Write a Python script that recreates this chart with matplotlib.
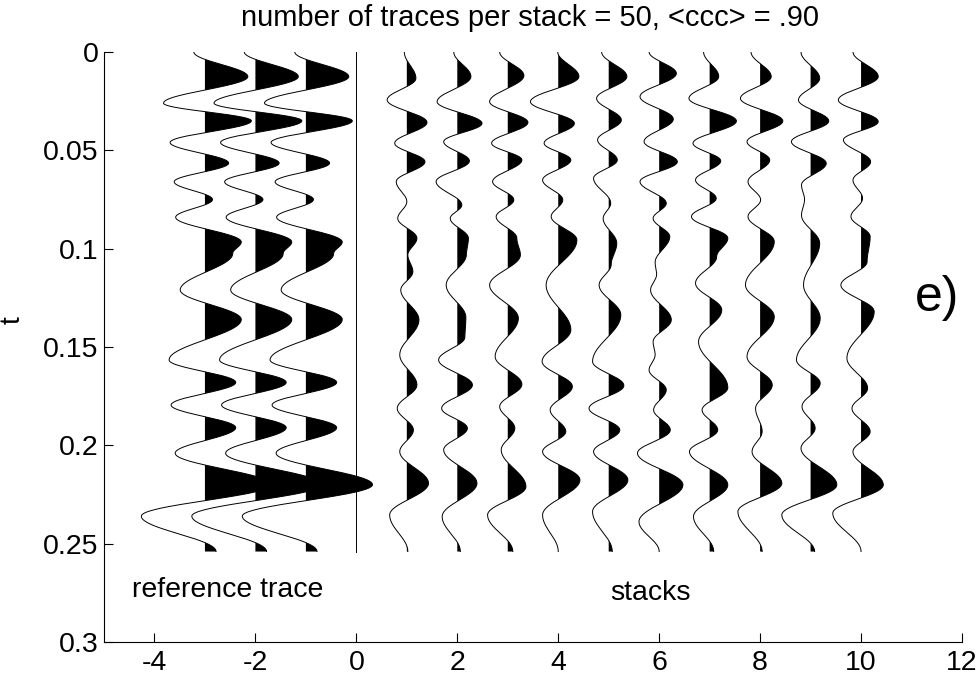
import numpy as np
import matplotlib
matplotlib.use("Agg")
import matplotlib.pyplot as plt

plt.rcParams['font.family'] = ['Liberation Sans', 'DejaVu Sans']

# Trace extrema: times (s) and amplitudes (trace units) of successive peaks/troughs
T_END = 0.254

ref_t = [0.000, 0.0125, 0.026, 0.035, 0.046, 0.0565, 0.066, 0.075, 0.084, 0.0966, 0.1025,
         0.121, 0.136, 0.1566, 0.168, 0.1795, 0.191, 0.204, 0.220, 0.236, T_END]
ref_a = [-0.22, 0.85, -0.82, 0.92, -0.69, 0.47, -0.61, 0.15, -0.58, 0.72, 0.55,
         -0.49, 0.72, -0.71, 0.61, -0.67, 0.61, -0.59, 1.32, -1.26, 0.22]

zero_t = [0.0, T_END]
zero_a = [0.0, 0.0]

s1_t = [0.0, 0.0134, 0.0244, 0.0358, 0.0464, 0.0558, 0.0659, 0.0761, 0.0846, 0.0947, 0.1032,
        0.1117, 0.121, 0.1362, 0.154, 0.1693, 0.1812, 0.1922, 0.2032, 0.2193, 0.2354, T_END]
s1_a = [-0.05, 0.18, -0.39, 0.40, -0.24, 0.36, -0.21, 0.0, -0.18, 0.20, 0.02,
        0.12, -0.12, 0.24, -0.14, 0.20, -0.19, 0.13, -0.14, 0.43, -0.34, 0.02]

s2_t = [0.0, 0.0125, 0.0253, 0.0363, 0.0456, 0.0554, 0.0659, 0.0778, 0.0846, 0.0947, 0.103,
        0.1185, 0.135, 0.145, 0.1566, 0.1693, 0.1812, 0.1913, 0.2023, 0.2193, 0.2362, T_END]
s2_a = [-0.07, 0.27, -0.40, 0.49, -0.27, 0.24, -0.42, 0.09, -0.14, 0.22, 0.18,
        -0.22, 0.17, 0.15, -0.37, 0.30, -0.31, 0.20, -0.27, 0.39, -0.30, 0.06]

s3_t = [0.0, 0.0120, 0.0253, 0.0358, 0.0464, 0.0549, 0.0659, 0.0752, 0.0837, 0.0947, 0.1032,
        0.1185, 0.1354, 0.1549, 0.169, 0.1803, 0.1913, 0.2023, 0.221, 0.2354, T_END]
s3_a = [-0.16, 0.32, -0.36, 0.40, -0.32, 0.28, -0.30, 0.12, -0.23, 0.18, 0.25,
        -0.36, 0.21, -0.25, 0.28, -0.16, 0.14, -0.13, 0.36, -0.40, 0.10]

s4_t = [0.0, 0.0125, 0.0253, 0.0363, 0.0464, 0.0549, 0.0651, 0.0752, 0.0837, 0.0956,
        0.1185, 0.1413, 0.1574, 0.1701, 0.182, 0.193, 0.2032, 0.2176, 0.2354, T_END]
s4_a = [-0.01, 0.41, -0.55, 0.32, -0.28, 0.25, -0.31, 0.09, -0.14, 0.37,
        -0.24, 0.25, -0.32, 0.28, -0.16, 0.15, -0.31, 0.43, -0.31, 0.0]

s5_t = [0.0, 0.0125, 0.0236, 0.0346, 0.0447, 0.0549, 0.0642, 0.0769, 0.0846, 0.0973, 0.108,
        0.1185, 0.1337, 0.1574, 0.1696, 0.1812, 0.1922, 0.2032, 0.2176, 0.2337, T_END]
s5_a = [-0.14, 0.36, -0.24, 0.25, -0.22, 0.17, -0.30, 0.04, -0.11, 0.16, 0.05,
        -0.19, 0.24, -0.32, 0.30, -0.39, 0.22, -0.30, 0.38, -0.32, 0.07]

s6_t = [0.0, 0.0109, 0.0227, 0.0341, 0.0456, 0.0558, 0.0659, 0.0769, 0.0846, 0.0939, 0.107,
        0.113, 0.121, 0.1362, 0.1473, 0.154, 0.1617, 0.1718, 0.182, 0.1922, 0.204, 0.2201,
        0.2388, T_END]
s6_a = [-0.20, 0.34, -0.38, 0.28, -0.30, 0.36, -0.38, 0.14, -0.12, 0.21, -0.08,
        -0.05, -0.17, 0.24, -0.12, -0.08, -0.20, 0.14, -0.11, 0.22, -0.43, 0.47,
        -0.40, 0.0]

s7_t = [0.0, 0.0125, 0.0236, 0.0351, 0.0464, 0.0554, 0.0651, 0.0744, 0.0837, 0.0947, 0.104,
        0.1176, 0.1312, 0.1473, 0.1707, 0.182, 0.1922, 0.2032, 0.2201, 0.2362, T_END]
s7_a = [-0.12, 0.18, -0.41, 0.53, -0.33, 0.22, -0.28, 0.13, -0.36, 0.36, 0.14,
        -0.28, 0.24, -0.22, 0.36, -0.15, 0.16, -0.40, 0.36, -0.32, 0.08]

s8_t = [0.0, 0.0125, 0.0236, 0.0351, 0.0456, 0.0549, 0.0659, 0.0752, 0.0837, 0.0964,
        0.1185, 0.1346, 0.1549, 0.1693, 0.1812, 0.193, 0.2032, 0.2193, 0.2337, T_END]
s8_a = [-0.18, 0.22, -0.39, 0.45, -0.26, 0.19, -0.24, 0.01, -0.24, 0.28,
        -0.29, 0.28, -0.26, 0.24, -0.09, 0.04, -0.16, 0.43, -0.44, 0.04]

s9_t = [0.0, 0.0134, 0.0244, 0.0351, 0.0456, 0.0566, 0.0676, 0.075, 0.083, 0.0973,
        0.1185, 0.1354, 0.1566, 0.1684, 0.1803, 0.1913, 0.2015, 0.2201, 0.2354, T_END]
s9_a = [-0.19, 0.18, -0.24, 0.36, -0.38, 0.31, -0.18, -0.12, -0.18, 0.18,
        -0.14, 0.19, -0.28, 0.19, -0.17, 0.09, -0.19, 0.52, -0.57, 0.08]

s10_t = [0.0, 0.0125, 0.0244, 0.0354, 0.0447, 0.0558, 0.0651, 0.0744, 0.0837, 0.0939, 0.1066,
         0.1185, 0.132, 0.1557, 0.171, 0.1812, 0.193, 0.2032, 0.2201, 0.2345, T_END]
s10_a = [-0.16, 0.34, -0.45, 0.34, -0.35, 0.19, -0.16, 0.03, -0.20, 0.18, 0.12,
         -0.40, 0.26, -0.28, 0.13, -0.18, 0.18, -0.16, 0.44, -0.56, 0.0]

trace_x = [-3, -2, -1, 0, 1, 2, 3, 4, 5, 6, 7, 8, 9, 10]
traces = [(ref_t, ref_a), (ref_t, ref_a), (ref_t, ref_a), (zero_t, zero_a),
          (s1_t, s1_a), (s2_t, s2_a), (s3_t, s3_a), (s4_t, s4_a), (s5_t, s5_a),
          (s6_t, s6_a), (s7_t, s7_a), (s8_t, s8_a), (s9_t, s9_a), (s10_t, s10_a)]

x_ticks = [-4, -2, 0, 2, 4, 6, 8, 10, 12]
y_ticks = [0, 0.05, 0.1, 0.15, 0.2, 0.25, 0.3]
y_tick_labels = ["0", "0.05", "0.1", "0.15", "0.2", "0.25", "0.3"]


def wiggle_curve(t_ext, a_ext, n=40):
    """Smooth half-cosine swing between successive extrema."""
    ts, vs = [], []
    for (t0, t1, a0, a1) in zip(t_ext[:-1], t_ext[1:], a_ext[:-1], a_ext[1:]):
        s = np.linspace(0.0, 1.0, n, endpoint=False)
        w = 0.5 * (1.0 - np.cos(np.pi * s))
        ts.append(t0 + (t1 - t0) * s)
        vs.append(a0 + (a1 - a0) * w)
    ts.append([t_ext[-1]])
    vs.append([a_ext[-1]])
    return np.concatenate(ts), np.concatenate(vs)


fig = plt.figure(figsize=(9.79, 6.77), dpi=100)
ax = fig.add_axes([104 / 979, 35 / 677, 858 / 979, 590 / 677])

for x0, (tt, aa) in zip(trace_x, traces):
    t, a = wiggle_curve(tt, aa)
    ax.fill_betweenx(t, x0, x0 + a, where=a > 0, interpolate=True,
                     color='black', linewidth=0)
    ax.plot(x0 + a, t, color='black', linewidth=0.7)

ax.set_xlim(-5, 12)
ax.set_ylim(0.3, 0)
ax.set_xticks(x_ticks)
ax.set_xticklabels([str(v) for v in x_ticks])
ax.set_yticks(y_ticks)
ax.set_yticklabels(y_tick_labels)
ax.tick_params(direction='in', length=6.5, width=0.8, labelsize=20.5)
ax.tick_params(axis='y', pad=4)
ax.tick_params(axis='x', pad=6)
for side in ('top', 'right'):
    ax.spines[side].set_visible(False)
for side in ('left', 'bottom'):
    ax.spines[side].set_linewidth(0.8)

ax.text(-4.45, 0.2735, "reference trace", fontsize=20.5, ha='left', va='center')
ax.text(5.83, 0.275, "stacks", fontsize=20.5, ha='center', va='center')
ax.text(11.07, 0.125, "e)", fontsize=36, ha='left', va='center')

fig.text(530 / 979, 1 - 18 / 677, "number of traces per stack = 50, <ccc> = .90",
         fontsize=21, ha='center', va='center')
fig.text(13 / 979, 1 - 320 / 677, "t", fontsize=20.5, rotation=90,
         ha='center', va='center')

fig.savefig("out.png", dpi=100, facecolor='white')
